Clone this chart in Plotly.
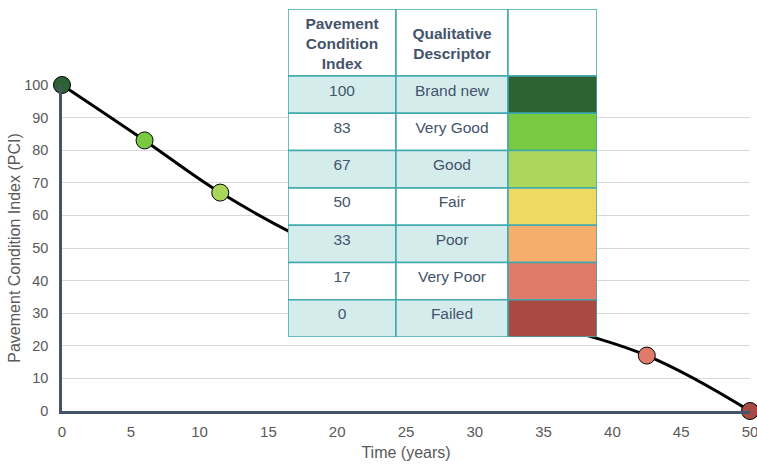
import plotly.graph_objects as go

# PCI deterioration curve
years = [0, 6, 11.5, 19, 30, 42.5, 50]
pci = [100, 83, 67, 50, 33, 17, 0]
point_colors = ["#2f6232", "#78c841", "#a9d65a", "#eed862", "#f5ae6b", "#e07b6a", "#a84a43"]

# condition scale table
table_pci = ["100", "83", "67", "50", "33", "17", "0"]
table_desc = ["Brand new", "Very Good", "Good", "Fair", "Poor", "Very Poor", "Failed"]
table_swatch = ["#2f6232", "#7ac943", "#abd85c", "#eed962", "#f5ae6b", "#e07b6a", "#a84a43"]
header = ["<b>Pavement<br>Condition<br>Index</b>", "<b>Qualitative<br>Descriptor</b>", ""]

W, H = 757, 464
ml, mr, mt, mb = 62, 7, 9, 53
pw, ph = W - ml - mr, H - mt - mb

TEXT = "#44546a"
TICK = "#595959"
TEAL = "#3fa9ad"
SHADE = "#d5eced"
FONT = "Liberation Sans, Arial, sans-serif"

fig = go.Figure()

fig.add_trace(go.Scatter(
    x=years, y=pci, mode="lines+markers",
    line=dict(color="black", width=3, shape="spline", smoothing=1),
    marker=dict(size=17, color=point_colors, line=dict(color="black", width=1)),
    cliponaxis=False, hoverinfo="skip", showlegend=False,
))

# table geometry (table-local units, pixel scale)
col_w = [108, 112, 89]
col_x = [0, 108, 220]
head_h = 67
row_h = 37.3
n = len(table_pci)
row_top = [0] + [head_h + i * row_h for i in range(n)]
row_hts = [head_h] + [row_h] * n
row_mid = [t + h / 2 for t, h in zip(row_top, row_hts)]
tbl_h = head_h + n * row_h
tbl_w = sum(col_w)

cy, cbase, cw, cheight, ccolor = [], [], [], [], []
for c in range(3):
    for r in range(n + 1):
        cy.append(row_mid[r])
        cbase.append(col_x[c])
        cw.append(col_w[c])
        cheight.append(row_hts[r])
        if r == 0:
            ccolor.append("white")
        elif c == 2:
            ccolor.append(table_swatch[r - 1])
        else:
            ccolor.append(SHADE if (r - 1) % 2 == 0 else "white")

fig.add_trace(go.Bar(
    orientation="h", y=cy, x=cw, base=cbase, width=cheight,
    marker=dict(color=ccolor, line=dict(color=TEAL, width=1.5)),
    xaxis="x2", yaxis="y2", cliponaxis=False, hoverinfo="skip", showlegend=False,
))

tx, ty, tt = [], [], []
for c in range(3):
    tx.append(col_x[c] + col_w[c] / 2); ty.append(row_mid[0] + 2.5); tt.append(header[c])
for r in range(n):
    for c, vals in enumerate([table_pci, table_desc]):
        tx.append(col_x[c] + col_w[c] / 2); ty.append(row_mid[r + 1] - 3); tt.append(vals[r])

fig.add_trace(go.Scatter(
    x=tx, y=ty, text=tt, mode="text", textposition="middle center",
    textfont=dict(family=FONT, size=15.5, color=TEXT),
    xaxis="x2", yaxis="y2", cliponaxis=False, hoverinfo="skip", showlegend=False,
))

tbl_left, tbl_top = 288, 9
fig.update_layout(
    width=W, height=H,
    margin=dict(l=ml, r=mr, t=mt, b=mb, autoexpand=False),
    paper_bgcolor="white", plot_bgcolor="white",
    barmode="overlay",
    font=dict(family=FONT, color=TICK, size=15),
    xaxis=dict(
        domain=[0, 1], range=[0, 50], tickvals=list(range(0, 51, 5)),
        showgrid=False, zeroline=False, showline=True, linecolor=TEXT, linewidth=2.5,
        ticks="", tickfont=dict(size=15, color=TICK), ticklabelstandoff=5,
        ticklabeloverflow="allow",
        title=dict(text="Time (years)", font=dict(size=16, color=TICK), standoff=9),
        anchor="y", fixedrange=True, automargin=False,
    ),
    yaxis=dict(
        domain=[0, 326 / ph], range=[0, 100], tickvals=list(range(0, 101, 10)),
        showgrid=True, gridcolor="#d9d9d9", gridwidth=1, zeroline=False,
        showline=True, linecolor=TEXT, linewidth=2.5, ticks="",
        tickfont=dict(size=14.5, color=TICK), ticklabelstandoff=8,
        title=dict(text="Pavement Condition Index (PCI)", font=dict(size=16, color=TICK), standoff=0),
        anchor="x", fixedrange=True, automargin=False,
    ),
    xaxis2=dict(
        domain=[(tbl_left - ml) / pw, (tbl_left + tbl_w - ml) / pw],
        range=[0, tbl_w], visible=False, anchor="y2", fixedrange=True, automargin=False,
    ),
    yaxis2=dict(
        domain=[(H - mb - (tbl_top + tbl_h)) / ph, 1 - (tbl_top - mt) / ph],
        range=[tbl_h, 0], visible=False, anchor="x2", fixedrange=True, automargin=False,
    ),
)

fig.write_html("out.html")
